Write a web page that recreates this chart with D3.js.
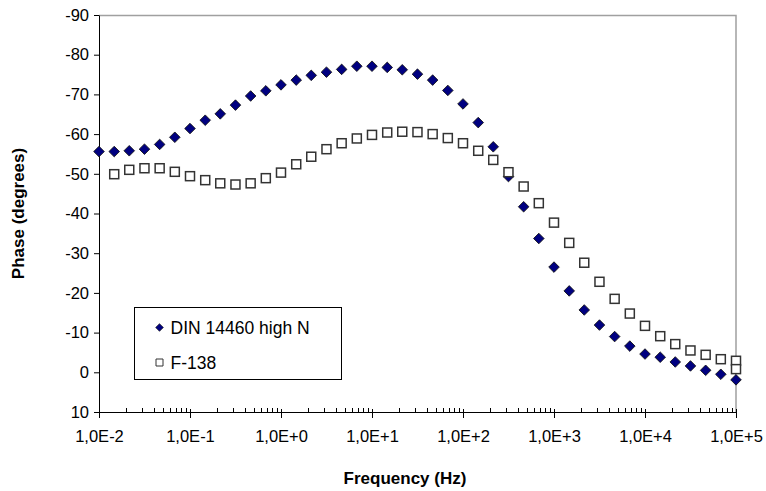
<!DOCTYPE html>
<html>
<head>
<meta charset="utf-8">
<script src="https://cdn.jsdelivr.net/npm/d3@7"></script>
<style>
  body { margin: 0; background: #fff; }
  svg text { font-family: Arial, "Liberation Sans", sans-serif; fill: #000; }
</style>
</head>
<body>
<div id="chart"></div>
<script>
// measured frequencies (Hz), 6 points per decade
var freqDin = [0.01, 0.0147, 0.0215, 0.0316, 0.0464, 0.0681,
    0.1, 0.147, 0.215, 0.316, 0.464, 0.681,
    1, 1.47, 2.15, 3.16, 4.64, 6.81,
    10, 14.7, 21.5, 31.6, 46.4, 68.1,
    100, 147, 215, 316, 464, 681,
    1000, 1470, 2150, 3160, 4640, 6810,
    10000, 14700, 21500, 31600, 46400, 68100, 100000];
var phaseDin = [-55.6, -55.6, -55.8, -56.2, -57.4, -59.2,
    -61.4, -63.5, -65.1, -67.3, -69.6, -70.9,
    -72.4, -73.6, -74.8, -75.6, -76.3, -77.1,
    -77.1, -76.8, -76.2, -75.1, -73.6, -71.0,
    -67.6, -62.9, -56.8, -49.3, -41.7, -33.7,
    -26.5, -20.5, -15.7, -11.9, -9.0, -6.6,
    -4.6, -3.8, -2.6, -1.6, -0.5, 0.5, 1.9];

var freqF138 = [0.0147, 0.0215, 0.0316, 0.0464, 0.0681,
    0.1, 0.147, 0.215, 0.316, 0.464, 0.681,
    1, 1.47, 2.15, 3.16, 4.64, 6.81,
    10, 14.7, 21.5, 31.6, 46.4, 68.1,
    100, 147, 215, 316, 464, 681,
    1000, 1470, 2150, 3160, 4640, 6810,
    10000, 14700, 21500, 31600, 46400, 68100, 100000, 100000];
var phaseF138 = [-49.9, -51.0, -51.4, -51.4, -50.5,
    -49.4, -48.4, -47.6, -47.3, -47.6, -48.9,
    -50.3, -52.4, -54.3, -56.2, -57.7, -58.9,
    -59.8, -60.4, -60.6, -60.5, -60.0, -59.0,
    -57.7, -55.8, -53.5, -50.4, -46.8, -42.6,
    -37.7, -32.6, -27.6, -22.8, -18.5, -14.8,
    -11.7, -9.1, -7.1, -5.5, -4.4, -3.3, -2.9, -0.8];

var xTicks = [1e-2, 1e-1, 1e0, 1e1, 1e2, 1e3, 1e4, 1e5];
var xTickLabels = ['1,0E-2', '1,0E-1', '1,0E+0', '1,0E+1', '1,0E+2', '1,0E+3', '1,0E+4', '1,0E+5'];
var yTicks = [-90, -80, -70, -60, -50, -40, -30, -20, -10, 0, 10];
var seriesNames = ['DIN 14460 high N', 'F-138'];

var sWidth = 766;
var sHeight = 491;
var marg = { top: 15, left: 99, right: 30, bottom: 79 };
var width = sWidth - marg.left - marg.right;
var height = sHeight - marg.top - marg.bottom;

var svg = d3.select('#chart')
    .append('svg')
    .attr('width', sWidth)
    .attr('height', sHeight);

var g = svg.append('g')
    .attr('transform', `translate(${marg.left}, ${marg.top})`);

var x = d3.scaleLog().domain([1e-2, 1e5]).range([0, width]);
var y = d3.scaleLinear().domain([-90, 10]).range([0, height]);

// plot frame: grey top/right border
g.append('path')
    .attr('d', `M0,0.5H${width}V${height}`)
    .attr('fill', 'none')
    .attr('stroke', '#a0a0a0')
    .attr('stroke-width', 1.5);

// minor ticks (inside)
var minor = [];
xTicks.slice(0, -1).forEach(function(t) {
    for (var k = 2; k <= 9; k++) minor.push(t * k);
});
g.append('g')
    .attr('transform', `translate(0, ${height})`)
    .selectAll('line')
    .data(minor)
    .enter()
    .append('line')
    .attr('x1', d => Math.round(x(d)) + 0.5)
    .attr('x2', d => Math.round(x(d)) + 0.5)
    .attr('y1', 0)
    .attr('y2', -4)
    .attr('stroke', '#000');

var xAxis = g.append('g')
    .attr('transform', `translate(0, ${height})`)
    .call(d3.axisBottom(x).tickValues(xTicks).tickSize(6).tickSizeOuter(0)
        .tickFormat((d, i) => xTickLabels[i]));
xAxis.select('.domain').attr('stroke', '#000');
xAxis.selectAll('.tick line').attr('y1', -3);
xAxis.selectAll('.tick text')
    .attr('dy', 0)
    .attr('y', 30)
    .style('font-size', '16.5px')
    .style('font-family', 'Arial, "Liberation Sans", sans-serif');

var yAxis = g.append('g')
    .call(d3.axisLeft(y).tickValues(yTicks).tickSize(5).tickSizeOuter(0)
        .tickFormat(d => String(d)));
yAxis.selectAll('.tick text')
    .attr('x', -10)
    .style('font-size', '16.5px')
    .style('font-family', 'Arial, "Liberation Sans", sans-serif');

// axis titles
svg.append('text')
    .attr('x', 405)
    .attr('y', 484)
    .attr('text-anchor', 'middle')
    .style('font-size', '17px')
    .style('font-weight', 'bold')
    .text('Frequency (Hz)');

svg.append('text')
    .attr('transform', `translate(24, ${marg.top + height / 2}) rotate(-90)`)
    .attr('text-anchor', 'middle')
    .style('font-size', '17px')
    .style('font-weight', 'bold')
    .text('Phase (degrees)');

var dinData = freqDin.map((f, i) => ({ f: f, v: phaseDin[i] }));
var f138Data = freqF138.map((f, i) => ({ f: f, v: phaseF138[i] }));

var diamond = d3.symbol().type(d3.symbolSquare).size(56);

g.selectAll('.din')
    .data(dinData)
    .enter()
    .append('path')
    .attr('class', 'din')
    .attr('d', diamond)
    .attr('transform', d => `translate(${x(d.f)}, ${y(d.v)}) rotate(45)`)
    .attr('fill', '#000080')
    .attr('stroke', '#111')
    .attr('stroke-width', 0.8);

g.selectAll('.f138')
    .data(f138Data)
    .enter()
    .append('rect')
    .attr('class', 'f138')
    .attr('x', d => x(d.f) - 4.5)
    .attr('y', d => y(d.v) - 4.5)
    .attr('width', 9)
    .attr('height', 9)
    .attr('fill', '#fff')
    .attr('stroke', '#333')
    .attr('stroke-width', 1.5);

// legend
var legend = svg.append('g')
    .attr('transform', 'translate(134.5, 307.5)');
legend.append('rect')
    .attr('width', 207)
    .attr('height', 72)
    .attr('fill', '#fff')
    .attr('stroke', '#000');

var leg = legend.selectAll('.item')
    .data(seriesNames)
    .enter()
    .append('g')
    .attr('transform', (d, i) => `translate(25, ${20 + i * 35})`);

leg.append('path')
    .attr('d', (d, i) => i === 0 ? d3.symbol().type(d3.symbolSquare).size(30)() : 'M-3.5,-3.5h7v7h-7z')
    .attr('transform', (d, i) => i === 0 ? 'rotate(45)' : '')
    .attr('fill', (d, i) => i === 0 ? '#000080' : '#fff')
    .attr('stroke', (d, i) => i === 0 ? '#111' : '#333')
    .attr('stroke-width', (d, i) => i === 0 ? 0.6 : 1);

leg.append('text')
    .attr('x', 11)
    .attr('dy', '0.35em')
    .style('font-size', '17.5px')
    .text(d => d);
</script>
</body>
</html>
